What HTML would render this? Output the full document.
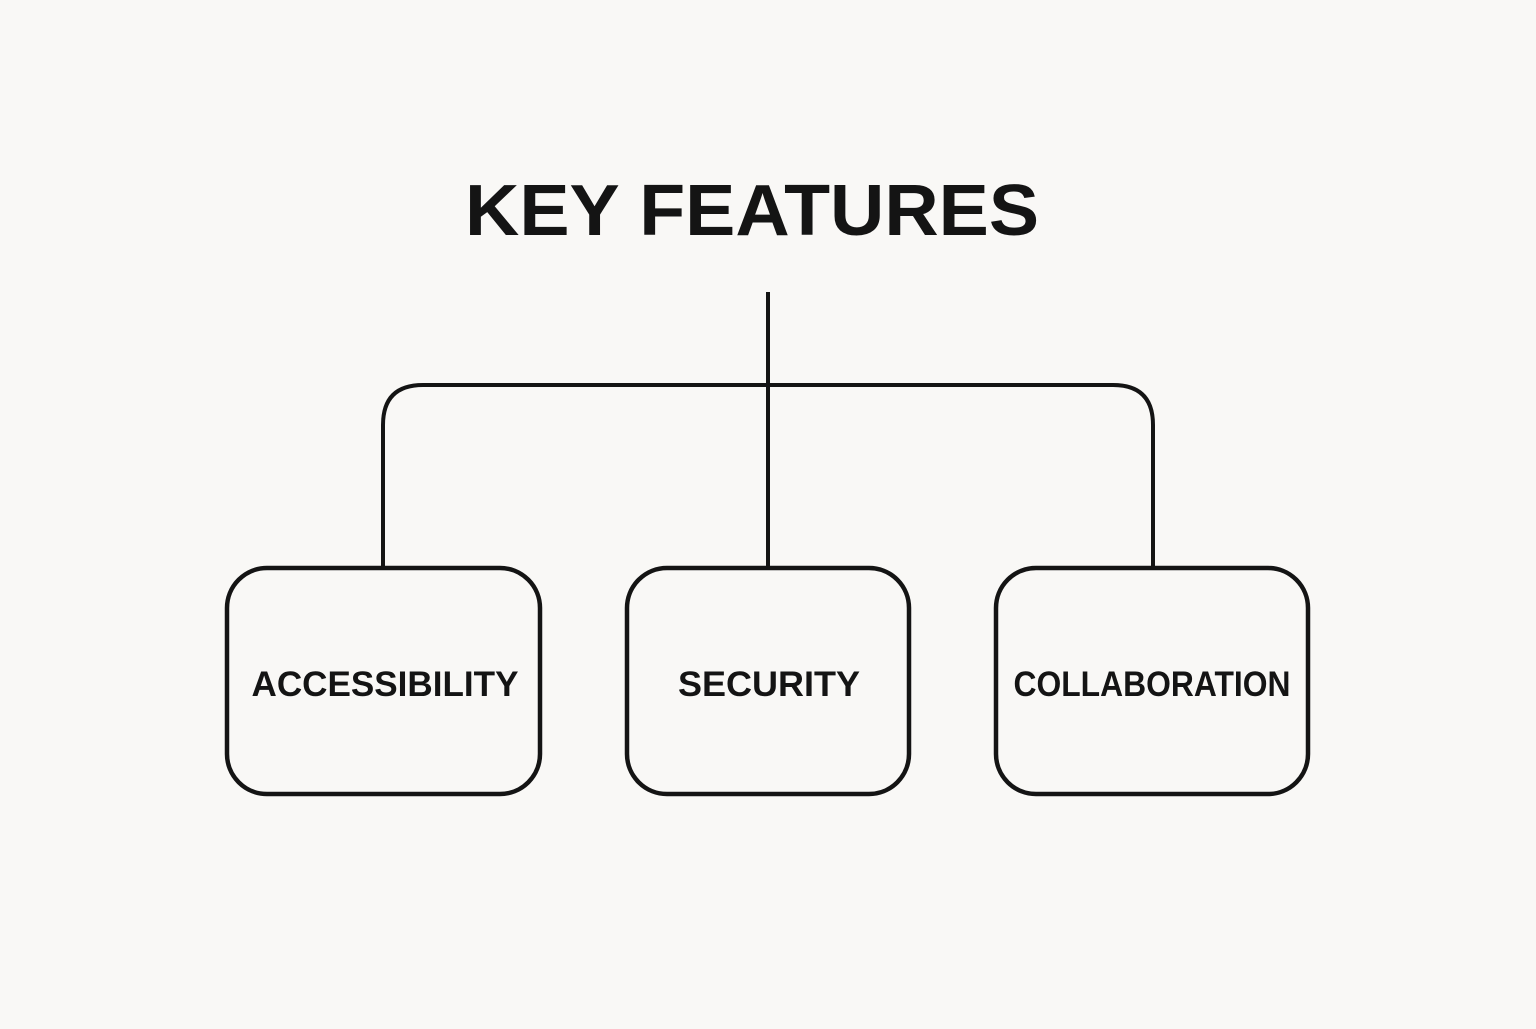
<!DOCTYPE html>
<html><head><style>
html,body{margin:0;padding:0;background:#f9f8f6;}
</style></head><body>
<svg width="1536" height="1024" viewBox="0 0 1536 1024" xmlns="http://www.w3.org/2000/svg">
<rect width="1536" height="1024" fill="#f9f8f6"/>
<text x="752" y="235" text-anchor="middle" font-family="Liberation Sans, sans-serif" font-weight="bold" font-size="72" fill="#141414" textLength="574" lengthAdjust="spacingAndGlyphs">KEY FEATURES</text>
<g fill="none" stroke="#141414" stroke-width="4">
<line x1="768" y1="292" x2="768" y2="568"/>
<path d="M383 568 V425 Q383 385 423 385 H1113 Q1153 385 1153 425 V568"/>
</g>
<g fill="none" stroke="#141414" stroke-width="4.5">
<rect x="227" y="568" width="313" height="226" rx="40"/>
<rect x="627" y="568" width="282" height="226" rx="40"/>
<rect x="996" y="568" width="312" height="226" rx="40"/>
</g>
<g font-family="Liberation Sans, sans-serif" font-weight="bold" font-size="35" fill="#141414" text-anchor="middle">
<text x="385" y="696" textLength="267" lengthAdjust="spacingAndGlyphs">ACCESSIBILITY</text>
<text x="769" y="696" textLength="182" lengthAdjust="spacingAndGlyphs">SECURITY</text>
<text x="1152" y="696" textLength="277" lengthAdjust="spacingAndGlyphs">COLLABORATION</text>
</g>
</svg>
</body></html>
